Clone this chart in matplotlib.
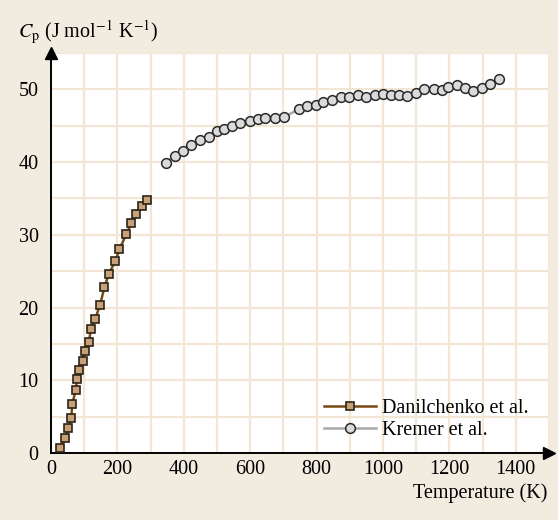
import matplotlib
matplotlib.use("Agg")
import matplotlib.pyplot as plt

# Danilchenko et al.
dan_T = [27, 43, 52, 61, 64, 74, 79, 85, 95, 101, 114, 120, 133, 148, 161, 174,
         194, 206, 227, 242, 257, 273, 289]
dan_Cp = [0.65, 2.0, 3.4, 4.8, 6.7, 8.6, 10.2, 11.4, 12.7, 14.0, 15.2, 17.0, 18.4,
          20.4, 22.8, 24.6, 26.4, 28.0, 30.1, 31.6, 32.9, 33.9, 34.75]

# Kremer et al.
kre_T = [345, 372, 397, 422, 449, 475, 500, 522, 546, 570, 599, 622, 645, 675, 702,
         748, 772, 797, 820, 846, 873, 897, 924, 949, 975, 999, 1023, 1048, 1072,
         1098, 1125, 1153, 1178, 1197, 1222, 1246, 1271, 1297, 1321, 1350]
kre_Cp = [39.9, 40.8, 41.5, 42.4, 43.0, 43.5, 44.3, 44.6, 44.9, 45.4, 45.6, 45.9,
          46.0, 46.0, 46.2, 47.3, 47.7, 47.9, 48.3, 48.5, 48.9, 48.9, 49.2, 48.9,
          49.2, 49.4, 49.2, 49.2, 49.1, 49.5, 50.0, 50.0, 49.9, 50.3, 50.6, 50.2,
          49.8, 50.2, 50.7, 51.4]

x_ticks = [0, 200, 400, 600, 800, 1000, 1200, 1400]
y_ticks = [0, 10, 20, 30, 40, 50]

plt.rcParams['font.family'] = ['Liberation Serif', 'DejaVu Serif']
plt.rcParams['mathtext.fontset'] = 'stix'

bg = '#F2EBE0'
gridc = '#F3E6D5'
fs = 14.5

fig = plt.figure(figsize=(5.58, 5.2), dpi=100, facecolor=bg)
ax = fig.add_axes([51/558, 1 - 453/520, 498/558, 400/520])
ax.set_facecolor('white')
ax.set_xlim(0, 1500)
ax.set_ylim(0, 55)

ax.set_xticks(x_ticks)
ax.set_yticks(y_ticks)
ax.set_xticks(range(0, 1501, 100), minor=True)
ax.set_yticks(range(0, 56, 5), minor=True)
ax.grid(which='both', color=gridc, linewidth=1.6)
ax.set_axisbelow(True)
ax.tick_params(which='both', length=0, labelsize=fs, pad=5)
ax.tick_params(axis='y', pad=9)

for s in ['top', 'right']:
    ax.spines[s].set_visible(False)
for s in ['left', 'bottom']:
    ax.spines[s].set_color('black')
    ax.spines[s].set_linewidth(1.4)

# arrows
ax.plot(1, 0, marker='>', color='black', markersize=9, transform=ax.transAxes, clip_on=False)
ax.plot(0, 1, marker='^', color='black', markersize=9, transform=ax.transAxes, clip_on=False)

ax.plot(dan_T, dan_Cp, color='#7A4A14', linewidth=1.8, marker='s', markersize=5.8,
        markerfacecolor='#C8A07A', markeredgecolor='#2E2416', markeredgewidth=1.2,
        label='Danilchenko et al.', clip_on=False, zorder=3)
ax.plot(kre_T, kre_Cp, color='#A8A8A8', linewidth=1.8, marker='o', markersize=7,
        markerfacecolor='#DADADA', markeredgecolor='#2A2A2A', markeredgewidth=1.1,
        label='Kremer et al.', clip_on=False, zorder=3)

leg = ax.legend(loc='upper left', bbox_to_anchor=(0.548, 0.135), frameon=False,
                fontsize=fs, handlelength=2.6, handletextpad=0.3,
                labelspacing=0.15, borderpad=0, borderaxespad=0)

fig.text(18/558, 1 - 32/520, r'$C_\mathrm{p}$ (J mol$^{-1}$ K$^{-1}$)', fontsize=fs,
         ha='left', va='center')
fig.text(547/558, 1 - 493/520, 'Temperature (K)', fontsize=fs, ha='right', va='center')

fig.savefig('out.png', dpi=100, facecolor=bg)
